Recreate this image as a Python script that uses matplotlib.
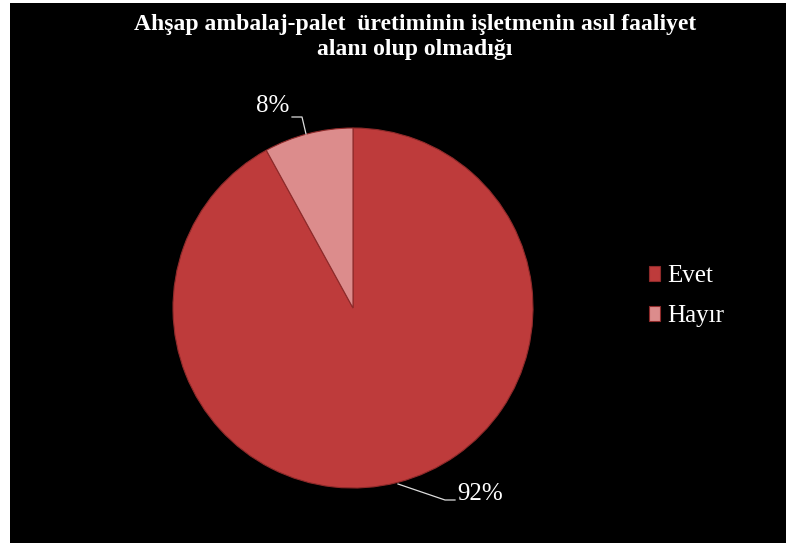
import matplotlib
matplotlib.use("Agg")
import matplotlib.pyplot as plt
from matplotlib.patches import Rectangle

title = "Ahşap ambalaj-palet  üretiminin işletmenin asıl faaliyet\nalanı olup olmadığı"
categories = ["Evet", "Hayır"]
values = [92, 8]
labels = ["92%", "8%"]
colors = ["#BE3B3B", "#DC8C8C"]

W, H = 786, 545
fig = plt.figure(figsize=(W / 100, H / 100), dpi=100)
fig.patch.set_facecolor("white")
bg = Rectangle((10 / W, 2 / H), 1 - 10 / W, 1 - 5 / H,
               transform=fig.transFigure, facecolor="black",
               edgecolor="none", zorder=-10)
fig.add_artist(bg)

cx, cy, r = 353, 308, 180
ax = fig.add_axes([(cx - r) / W, (H - cy - r) / H, 2 * r / W, 2 * r / H], zorder=1)
ax.set_facecolor("none")
wedges, _ = ax.pie(values, colors=colors, startangle=90, counterclock=False,
                   radius=1.0, wedgeprops=dict(edgecolor="#8E2A2A", linewidth=0.8))
ax.set_xlim(-1, 1)
ax.set_ylim(-1, 1)
ax.set_aspect("equal")
ax.axis("off")

font = "Liberation Serif"
fig.text(415 / W, 1 - 37 / H, title, ha="center", va="center", color="white",
         fontsize=17, fontweight="bold", family=font, linespacing=1.3, zorder=2)

def px(x, y):
    return ((x - cx) / r, (cy - y) / r)

# 92% label with leader line
p0, p1, p2 = px(398, 484), px(445, 500), px(455, 500)
ax.plot([p0[0], p1[0], p2[0]], [p0[1], p1[1], p2[1]], color="#DDDDDD", lw=0.9, clip_on=False)
t = px(457, 494)
ax.text(t[0], t[1], labels[0], color="white", fontsize=18, family=font,
        ha="left", va="center")

# 8% label with leader line
q0, q1, q2 = px(306, 134), px(302, 117), px(292, 117)
ax.plot([q0[0], q1[0], q2[0]], [q0[1], q1[1], q2[1]], color="#DDDDDD", lw=0.9, clip_on=False)
t = px(273, 106)
ax.text(t[0], t[1], labels[1], color="white", fontsize=18, family=font,
        ha="center", va="center")

leg = fig.legend(wedges, categories, loc="center left",
                 bbox_to_anchor=(626 / W, 1 - 296 / H), frameon=False,
                 prop=dict(family=font, size=18), labelcolor="white",
                 handlelength=0.45, handleheight=0.55, handletextpad=0.3,
                 labelspacing=0.72)
leg.set_zorder(3)

fig.savefig("out.png", dpi=100, facecolor=fig.get_facecolor())
